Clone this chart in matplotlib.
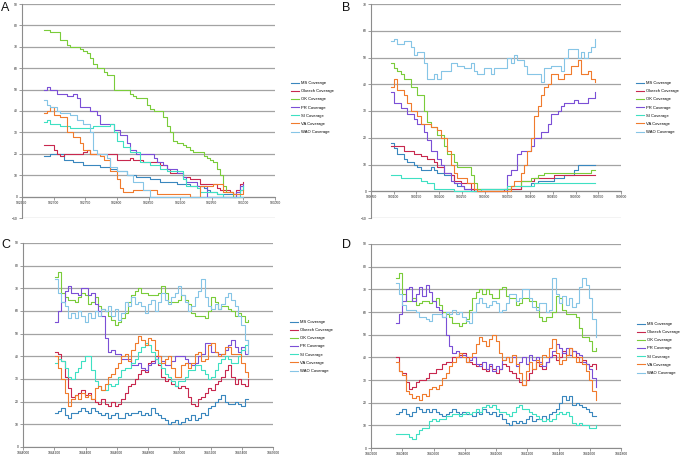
import matplotlib
matplotlib.use("Agg")
import matplotlib.pyplot as plt
from matplotlib.ticker import MultipleLocator

plt.rcParams["font.family"] = ["Liberation Sans", "DejaVu Sans"]

series_names = ["MS Coverage", "Okeech Coverage", "OK Coverage", "PR Coverage",
                "SI Coverage", "VA Coverage", "WAO Coverage"]
series_colors = ["#3a87be", "#c8284e", "#7acc3a", "#7b4fd6", "#3fe0c3", "#f07b2d", "#86c5e6"]

# ---------------- Panel A ----------------
pos_A = [902684, 902689, 902695, 902700, 902705, 902710, 902716, 902721, 902726, 902731,
         902737, 902742, 902747, 902752, 902758, 902763, 902768, 902773, 902779, 902784,
         902789, 902795, 902800, 902805, 902810, 902816, 902821, 902826, 902831, 902837,
         902842, 902847, 902852, 902858, 902863, 902868, 902873, 902879, 902884, 902889,
         902895, 902900, 902905, 902910, 902916, 902921, 902926, 902931, 902937, 902942,
         902947, 902952, 902958, 902963, 902968, 902973, 902979, 902984, 902989, 902995,
         903000]
A_MS = [19, 19, 20, 20, 20, 20, 17, 17, 17, 16,
        16, 16, 15, 15, 15, 15, 15, 14, 14, 14,
        13, 13, 12, 12, 12, 10, 10, 10, 9, 9,
        9, 9, 8, 8, 8, 7, 7, 7, 7, 7,
        6, 6, 6, 6, 5, 5, 5, 5, 4, 3,
        2, 2, 1, 1, 1, 1, 1, 1, 1, 3,
        5]
A_Okeech = [24, 24, 24, 22, 20, 19, 20, 20, 20, 20,
            20, 20, 21, 22, 20, 20, 20, 20, 20, 20,
            20, 20, 17, 17, 17, 17, 18, 17, 17, 17,
            16, 16, 16, 16, 16, 15, 15, 13, 11, 11,
            11, 11, 9, 9, 8, 8, 8, 6, 6, 6,
            6, 6, 4, 3, 3, 3, 2, 1, 3, 6,
            7]
A_OK = [78, 78, 77, 77, 77, 73, 73, 71, 70, 70,
        70, 69, 68, 67, 65, 62, 60, 60, 58, 57,
        57, 50, 50, 50, 50, 50, 48, 47, 46, 46,
        46, 43, 41, 40, 40, 40, 37, 33, 30, 26,
        25, 25, 24, 23, 22, 21, 21, 21, 19, 18,
        17, 16, 13, 10, 5, 2, 2, 0, 0, 0,
        0]
A_PR = [50, 51, 50, 50, 48, 48, 48, 47, 47, 48,
        46, 42, 42, 42, 40, 40, 38, 34, 34, 34,
        34, 31, 31, 29, 29, 25, 22, 22, 20, 20,
        20, 20, 20, 18, 16, 16, 15, 13, 13, 13,
        11, 11, 9, 7, 7, 7, 5, 5, 5, 0,
        0, 0, 0, 0, 0, 0, 0, 0, 2, 5,
        6]
A_SI = [35, 36, 34, 34, 34, 33, 33, 33, 32, 32,
        32, 32, 32, 32, 32, 33, 33, 33, 33, 33,
        34, 30, 26, 26, 23, 23, 21, 21, 21, 16,
        16, 16, 15, 15, 15, 13, 13, 12, 12, 12,
        12, 12, 8, 5, 5, 5, 4, 2, 2, 2,
        2, 2, 1, 1, 0, 0, 0, 0, 0, 3,
        5]
A_VA = [39, 40, 42, 38, 38, 37, 37, 30, 30, 28,
        28, 25, 22, 22, 20, 20, 20, 19, 17, 17,
        12, 12, 8, 4, 2, 2, 2, 3, 3, 3,
        3, 3, 3, 3, 1, 1, 1, 1, 1, 1,
        1, 1, 1, 1, 0, 0, 0, 5, 5, 5,
        5, 6, 6, 6, 2, 2, 2, 1, 1, 1,
        3]
A_WAO = [45, 43, 42, 42, 40, 39, 39, 39, 38, 38,
         36, 36, 34, 34, 30, 22, 20, 20, 20, 18,
         14, 14, 12, 12, 12, 10, 10, 7, 7, 7,
         3, 3, 0, 0, 0, 0, 0, 0, 0, 0,
         0, 0, 0, 0, 0, 0, 0, 0, 0, 0,
         0, 0, 0, 0, 0, 0, 0, 0, 0, 0,
         0]

# ---------------- Panel B ----------------
pos_B = [900093, 900100, 900108, 900115, 900122, 900130, 900137, 900144, 900152, 900159,
         900167, 900174, 900181, 900189, 900196, 900203, 900211, 900218, 900225, 900233,
         900240, 900247, 900255, 900262, 900269, 900277, 900284, 900292, 900299, 900306,
         900314, 900321, 900328, 900336, 900343, 900350, 900358, 900365, 900372, 900380,
         900387, 900394, 900402, 900409, 900417, 900424, 900431, 900439, 900446, 900453,
         900461, 900468, 900475, 900483, 900490, 900497, 900505, 900512, 900519, 900527,
         900534, 900542]
B_MS = [18, 16, 14, 14, 12, 11, 11, 10, 9, 8,
        8, 8, 9, 8, 7, 7, 6, 6, 6, 3,
        2, 2, 1, 1, 1, 1, 1, 1, 1, 1,
        1, 1, 1, 1, 1, 1, 1, 1, 1, 2,
        2, 2, 3, 3, 4, 4, 4, 4, 4, 5,
        5, 5, 6, 6, 6, 8, 10, 10, 10, 10,
        10, 10]
B_Okeech = [17, 17, 17, 17, 15, 15, 15, 14, 14, 13,
            13, 12, 12, 11, 9, 9, 7, 7, 6, 4,
            4, 3, 3, 3, 1, 0, 0, 0, 0, 0,
            0, 0, 0, 0, 1, 1, 1, 1, 1, 4,
            4, 4, 4, 5, 5, 5, 5, 5, 5, 6,
            6, 6, 6, 6, 6, 6, 6, 6, 6, 6,
            6, 6]
B_OK = [48, 46, 45, 44, 42, 42, 39, 39, 36, 36,
        30, 26, 24, 24, 21, 21, 17, 14, 14, 11,
        9, 9, 9, 9, 6, 3, 1, 1, 1, 1,
        1, 1, 1, 1, 1, 1, 2, 2, 2, 4,
        4, 4, 5, 5, 6, 6, 7, 7, 7, 7,
        7, 7, 7, 7, 7, 7, 7, 7, 7, 7,
        8, 8]
B_PR = [37, 33, 33, 31, 31, 29, 29, 27, 25, 25,
        22, 19, 15, 15, 12, 10, 7, 7, 4, 3,
        3, 2, 1, 1, 0, 0, 0, 0, 0, 0,
        0, 0, 0, 0, 0, 6, 8, 8, 14, 15,
        15, 15, 17, 20, 20, 22, 22, 25, 29, 29,
        30, 32, 33, 33, 33, 34, 33, 33, 33, 35,
        35, 37]
B_SI = [6, 6, 6, 5, 5, 5, 5, 5, 5, 4,
        4, 3, 3, 1, 1, 1, 1, 1, 1, 0,
        0, 0, 0, 0, 0, 0, 0, 1, 1, 1,
        1, 1, 1, 1, 1, 2, 2, 2, 2, 2,
        2, 2, 2, 3, 3, 3, 3, 3, 3, 3,
        3, 3, 3, 3, 3, 3, 3, 3, 3, 3,
        3, 3]
B_VA = [39, 42, 38, 38, 36, 33, 30, 30, 28, 25,
        25, 25, 24, 24, 23, 20, 20, 15, 10, 7,
        5, 5, 5, 3, 3, 1, 0, 0, 0, 0,
        0, 0, 0, 0, 0, 0, 2, 4, 4, 7,
        10, 15, 20, 28, 32, 36, 39, 40, 44, 44,
        42, 42, 44, 44, 47, 47, 49, 44, 44, 45,
        42, 41]
B_WAO = [56, 57, 55, 55, 56, 56, 54, 51, 52, 52,
         48, 42, 42, 44, 42, 45, 45, 45, 48, 48,
         47, 47, 46, 46, 48, 45, 44, 44, 46, 46,
         44, 46, 46, 46, 46, 50, 48, 51, 49, 49,
         47, 44, 44, 44, 44, 41, 46, 46, 47, 47,
         47, 45, 50, 53, 53, 53, 50, 52, 50, 52,
         54, 57]

# ---------------- Panel C ----------------
pos_C = [1044203, 1044224, 1044246, 1044267, 1044288, 1044310, 1044331, 1044352, 1044374, 1044395,
         1044416, 1044438, 1044459, 1044480, 1044502, 1044523, 1044544, 1044566, 1044587, 1044608,
         1044630, 1044651, 1044672, 1044694, 1044715, 1044736, 1044758, 1044779, 1044800, 1044822,
         1044843, 1044864, 1044886, 1044907, 1044928, 1044950, 1044971, 1044992, 1045014, 1045035,
         1045056, 1045078, 1045099, 1045120, 1045142, 1045163, 1045184, 1045206, 1045227, 1045248,
         1045270, 1045291, 1045312, 1045334, 1045355, 1045376, 1045398, 1045419, 1045440]
C_MS = [15, 16, 17, 14, 13, 15, 15, 16, 17, 16,
        15, 17, 16, 15, 14, 15, 13, 14, 15, 13,
        13, 15, 14, 15, 15, 16, 14, 15, 14, 17,
        15, 14, 13, 12, 10, 11, 12, 10, 11, 13,
        12, 14, 12, 13, 15, 14, 17, 18, 20, 21,
        23, 20, 19, 19, 20, 19, 18, 21, 21]
C_Okeech = [42, 41, 38, 31, 26, 22, 23, 24, 25, 23,
            24, 21, 20, 19, 21, 19, 18, 20, 18, 19,
            21, 24, 27, 28, 30, 32, 34, 33, 37, 38,
            40, 36, 31, 29, 30, 28, 27, 26, 27, 26,
            22, 19, 18, 21, 22, 24, 26, 25, 28, 29,
            31, 34, 36, 31, 28, 30, 28, 27, 30]
C_OK = [75, 77, 68, 66, 65, 65, 64, 66, 68, 67,
        63, 64, 66, 62, 61, 60, 58, 56, 54, 55,
        57, 59, 64, 67, 69, 70, 68, 68, 67, 67,
        67, 68, 71, 68, 64, 64, 64, 65, 67, 65,
        63, 59, 58, 58, 58, 57, 60, 66, 64, 61,
        62, 62, 61, 60, 58, 59, 58, 55, 56]
C_PR = [55, 60, 64, 69, 71, 68, 68, 67, 70, 70,
        67, 68, 63, 60, 58, 48, 42, 43, 41, 41,
        39, 39, 39, 36, 36, 37, 35, 34, 36, 37,
        39, 40, 38, 36, 36, 38, 40, 40, 40, 39,
        37, 36, 37, 40, 41, 46, 46, 42, 42, 41,
        41, 43, 45, 47, 44, 42, 44, 41, 43]
C_SI = [37, 39, 38, 35, 31, 30, 33, 35, 38, 40,
        40, 34, 29, 27, 25, 25, 28, 27, 28, 31,
        34, 35, 35, 37, 39, 42, 44, 46, 45, 42,
        39, 37, 35, 32, 31, 29, 27, 29, 29, 31,
        34, 34, 36, 36, 34, 32, 30, 31, 34, 37,
        39, 40, 39, 37, 37, 40, 43, 45, 47]
C_VA = [40, 35, 30, 24, 18, 21, 23, 21, 24, 22,
        23, 21, 26, 27, 25, 28, 31, 32, 35, 37,
        40, 41, 38, 43, 46, 49, 47, 45, 48, 47,
        43, 40, 37, 39, 40, 35, 31, 31, 36, 37,
        35, 37, 41, 42, 38, 39, 45, 46, 42, 40,
        41, 44, 44, 41, 41, 41, 37, 33, 31]
C_WAO = [74, 68, 64, 62, 57, 59, 57, 60, 58, 55,
         59, 57, 60, 58, 61, 60, 62, 58, 61, 56,
         59, 64, 62, 66, 63, 64, 62, 59, 63, 65,
         60, 64, 68, 65, 63, 66, 68, 71, 67, 64,
         60, 62, 66, 69, 74, 66, 62, 61, 63, 61,
         63, 66, 68, 65, 62, 58, 54, 47, 41]

# ---------------- Panel D ----------------
pos_D = [1040358, 1040379, 1040401, 1040422, 1040443, 1040465, 1040486, 1040507, 1040529, 1040550,
         1040571, 1040593, 1040614, 1040635, 1040657, 1040678, 1040699, 1040721, 1040742, 1040763,
         1040785, 1040806, 1040827, 1040849, 1040870, 1040891, 1040913, 1040934, 1040955, 1040977,
         1040998, 1041019, 1041041, 1041062, 1041083, 1041105, 1041126, 1041147, 1041169, 1041190,
         1041211, 1041233, 1041254, 1041275, 1041297, 1041318, 1041339, 1041361, 1041382, 1041403,
         1041425, 1041446, 1041467, 1041489, 1041510, 1041531, 1041553, 1041574, 1041595, 1041617,
         1041638]
D_MS = [15, 16, 17, 15, 14, 16, 18, 17, 16, 17,
        16, 17, 16, 15, 14, 15, 16, 17, 16, 15,
        16, 15, 15, 14, 16, 15, 17, 16, 15, 16,
        14, 15, 13, 11, 10, 12, 11, 12, 11, 13,
        14, 12, 13, 13, 14, 13, 15, 16, 17, 20,
        23, 21, 23, 19, 20, 19, 18, 17, 16, 14,
        14]
D_Okeech = [40, 34, 33, 29, 26, 27, 29, 30, 30, 31,
            33, 33, 35, 35, 37, 38, 38, 40, 40, 41,
            42, 40, 38, 37, 36, 37, 35, 34, 36, 35,
            33, 35, 37, 36, 34, 33, 31, 29, 28, 30,
            33, 35, 38, 36, 35, 38, 40, 41, 39, 40,
            43, 41, 44, 43, 40, 38, 39, 37, 36, 37,
            35]
D_OK = [75, 77, 68, 65, 65, 66, 63, 64, 65, 65,
        64, 65, 66, 63, 60, 59, 58, 55, 55, 54,
        55, 57, 61, 66, 69, 70, 68, 70, 68, 66,
        66, 70, 71, 67, 66, 66, 63, 64, 66, 66,
        65, 65, 62, 58, 56, 58, 58, 60, 67, 66,
        61, 59, 59, 59, 58, 53, 49, 49, 47, 43,
        44]
D_PR = [55, 59, 65, 70, 71, 65, 68, 71, 67, 72,
        69, 65, 62, 61, 58, 50, 45, 42, 43, 40,
        41, 38, 39, 40, 37, 36, 38, 35, 37, 34,
        36, 35, 39, 40, 38, 40, 36, 38, 40, 37,
        41, 39, 40, 38, 36, 38, 40, 43, 46, 44,
        42, 44, 41, 43, 42, 41, 38, 37, 35, 31,
        27]
D_SI = [6, 6, 6, 6, 5, 4, 6, 8, 9, 9,
        12, 13, 12, 13, 13, 14, 14, 15, 15, 14,
        15, 16, 15, 16, 17, 16, 18, 19, 18, 19,
        17, 16, 16, 15, 14, 16, 18, 19, 17, 17,
        16, 15, 14, 13, 12, 13, 12, 13, 15, 16,
        15, 16, 14, 11, 10, 11, 10, 10, 9, 9,
        10]
D_VA = [38, 34, 32, 25, 24, 22, 23, 21, 24, 23,
        26, 27, 26, 28, 31, 33, 36, 38, 40, 42,
        40, 38, 40, 42, 46, 49, 47, 45, 48, 50,
        47, 42, 39, 40, 38, 41, 37, 33, 28, 34,
        38, 35, 39, 37, 41, 40, 44, 48, 42, 37,
        39, 41, 44, 40, 38, 40, 37, 34, 30, 25,
        21]
D_WAO = [73, 68, 63, 61, 61, 61, 60, 58, 58, 57,
         56, 59, 59, 59, 58, 60, 59, 61, 59, 60,
         58, 56, 55, 60, 64, 66, 64, 62, 63, 65,
         64, 60, 61, 64, 68, 68, 65, 66, 70, 70,
         66, 62, 61, 64, 64, 60, 61, 75, 68, 64,
         67, 63, 66, 62, 64, 71, 75, 72, 66, 57,
         49]

W, H = 682, 457
fig = plt.figure(figsize=(W / 100, H / 100), dpi=100)


def px_axes(left, top, right, bottom):
    return fig.add_axes([left / W, 1 - bottom / H, (right - left) / W, (bottom - top) / H])


panels = [
    dict(letter="A", box=(22, 4, 275, 218), pos=pos_A,
         data=[A_MS, A_Okeech, A_OK, A_PR, A_SI, A_VA, A_WAO],
         xlim=(902650, 903050), xstep=50, ylim=(-10, 90),
         leg=(291, 81), let=(1, 2)),
    dict(letter="B", box=(371, 4, 621, 218), pos=pos_B,
         data=[B_MS, B_Okeech, B_OK, B_PR, B_SI, B_VA, B_WAO],
         xlim=(900050, 900600), xstep=50, ylim=(-10, 70),
         leg=(636, 81), let=(342, 2)),
    dict(letter="C", box=(23, 243, 273, 447), pos=pos_C,
         data=[C_MS, C_Okeech, C_OK, C_PR, C_SI, C_VA, C_WAO],
         xlim=(1044000, 1045600), xstep=200, ylim=(0, 90),
         leg=(290, 320), let=(1, 239)),
    dict(letter="D", box=(371, 244, 621, 448), pos=pos_D,
         data=[D_MS, D_Okeech, D_OK, D_PR, D_SI, D_VA, D_WAO],
         xlim=(1040200, 1041800), xstep=200, ylim=(0, 90),
         leg=(637, 322), let=(342, 239)),
]

for p in panels:
    ax = px_axes(*p["box"])
    for name, color, vals in zip(series_names, series_colors, p["data"]):
        n = min(len(p["pos"]), len(vals))
        ax.plot(p["pos"][:n], vals[:n], color=color, lw=0.8, label=name,
                drawstyle="steps-post", zorder=3)
    ax.set_xlim(*p["xlim"])
    ax.set_ylim(*p["ylim"])
    ax.xaxis.set_major_locator(MultipleLocator(p["xstep"]))
    ax.yaxis.set_major_locator(MultipleLocator(10))
    ax.ticklabel_format(useOffset=False, style="plain", axis="both")
    ax.grid(axis="y", color="#a3a3a3", lw=0.9, zorder=0)
    ax.set_axisbelow(True)
    for s in ("top", "right"):
        ax.spines[s].set_visible(False)
    ax.spines["bottom"].set_position(("data", 0))
    ax.spines["bottom"].set_color("#8c8c8c")
    ax.spines["left"].set_color("#8c8c8c")
    ax.spines["bottom"].set_linewidth(0.8)
    ax.spines["left"].set_linewidth(0.8)
    ax.tick_params(axis="both", labelsize=2.4, length=2, width=0.6, color="#8c8c8c",
                   pad=1, labelcolor="#222222")
    lx, ly = p["leg"]
    ax.legend(loc="upper left", bbox_to_anchor=(lx / W, 1 - ly / H),
              bbox_transform=fig.transFigure, frameon=False, fontsize=3.0,
              handlelength=2.0, handletextpad=0.5, labelspacing=1.0,
              borderpad=0, borderaxespad=0)
    tx, ty = p["let"]
    fig.text(tx / W, 1 - ty / H, p["letter"], fontsize=9, ha="left", va="top",
             color="#111111")

fig.savefig("out.png", dpi=100)
